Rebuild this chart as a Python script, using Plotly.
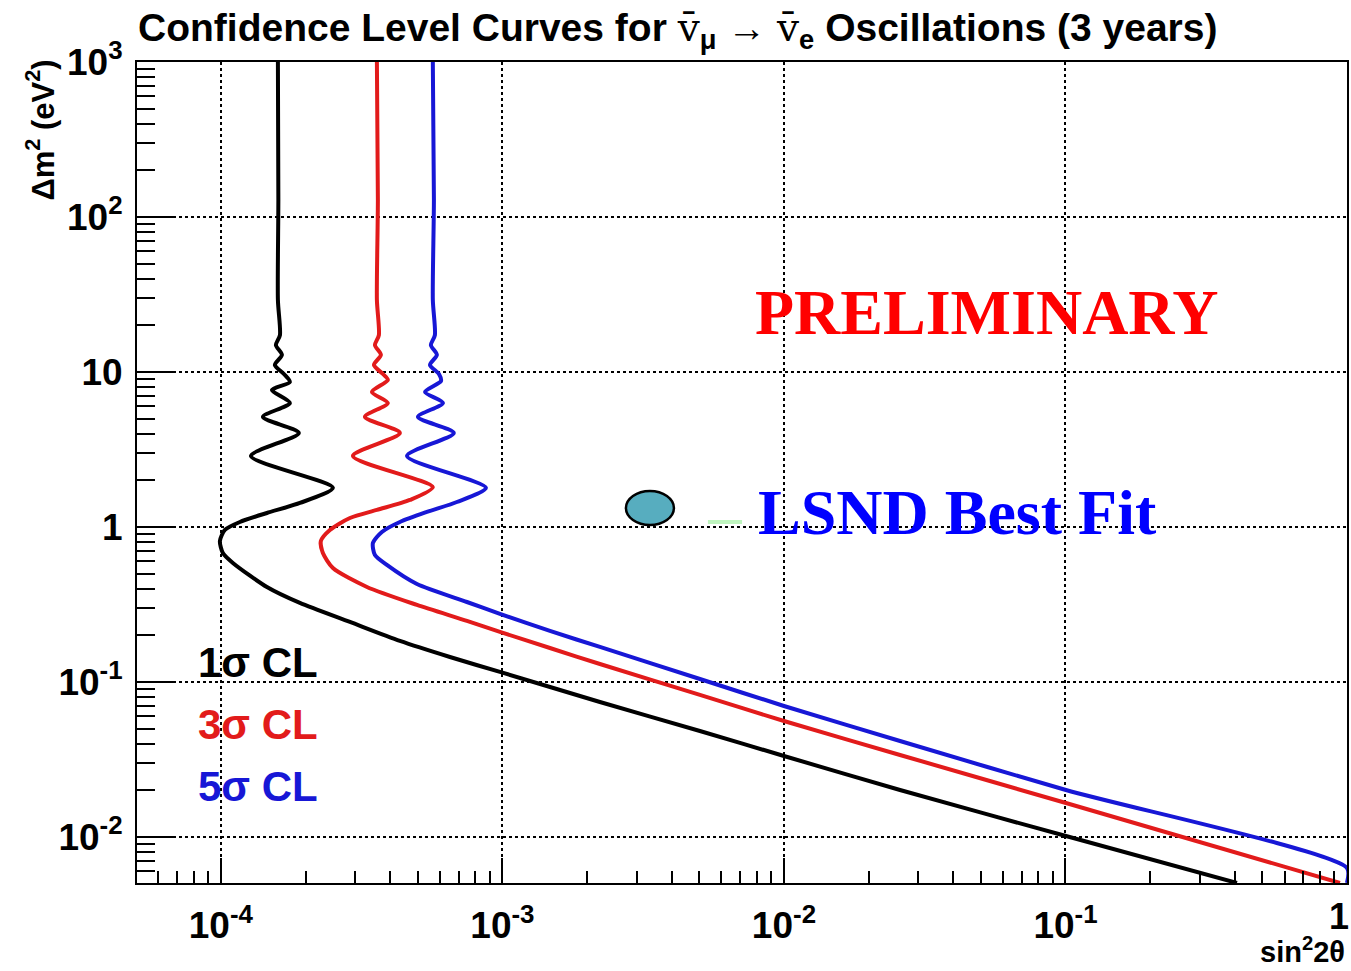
import plotly.graph_objects as go

# ---------------- data ----------------
# 1 sigma CL curve (sin^2 2theta, delta m^2 [eV^2])
s1_x = [1.594e-4, 1.600e-4, 1.594e-4, 1.621e-4, 1.568e-4, 1.647e-4, 1.555e-4, 1.674e-4,
        1.758e-4, 1.518e-4, 1.758e-4, 1.410e-4, 1.892e-4, 1.278e-4, 2.500e-4,
        1.908e-4, 1.457e-4, 1.168e-4, 1.033e-4, 0.992e-4, 1.016e-4, 1.103e-4,
        1.457e-4, 1.908e-4, 2.873e-4, 4.324e-4, 6.51e-4, 9.80e-4, 2.220e-3,
        5.03e-3, 1.0e-2, 0.02584, 0.1004, 0.4066]
s1_y = [1000, 128.8, 29.2, 17.3, 14.9, 12.9, 11.1, 9.71,
        8.62, 7.65, 6.31, 5.13, 4.04, 2.87, 1.79,
        1.429, 1.231, 1.077, 0.957, 0.812, 0.679, 0.586,
        0.410, 0.3236, 0.2438, 0.1840, 0.1449, 0.1161, 0.0743,
        0.0483, 0.0333, 0.02009, 0.01014, 0.00505]

# 3 sigma CL curve
s3_x = [3.582e-4, 3.611e-4, 3.582e-4, 3.641e-4, 3.525e-4, 3.701e-4, 3.496e-4, 3.762e-4,
        3.918e-4, 3.439e-4, 3.918e-4, 3.247e-4, 4.324e-4, 2.943e-4, 5.66e-4,
        4.692e-4, 3.582e-4, 2.873e-4, 2.439e-4, 2.265e-4, 2.303e-4, 2.500e-4,
        3.302e-4, 4.97e-4, 7.48e-4, 9.80e-4, 1.475e-3, 2.220e-3, 5.03e-3, 1.0e-2,
        0.02584, 0.1004, 0.944]
s3_y = [1000, 128.8, 29.2, 17.3, 14.9, 12.9, 11.1, 9.71,
        8.88, 7.43, 6.31, 5.13, 4.04, 2.87, 1.81,
        1.494, 1.288, 1.143, 0.957, 0.812, 0.679, 0.543,
        0.410, 0.3141, 0.2477, 0.2104, 0.1656, 0.1306, 0.0825, 0.0560,
        0.0338, 0.01656, 0.00505]

# 5 sigma CL curve
s5_x = [5.66e-4, 5.71e-4, 5.66e-4, 5.756e-4, 5.57e-4, 5.85e-4, 5.53e-4, 5.95e-4,
        6.05e-4, 5.31e-4, 6.15e-4, 5.01e-4, 6.72e-4, 4.58e-4, 8.74e-4,
        6.89e-4, 5.39e-4, 4.324e-4, 3.731e-4, 3.467e-4, 3.525e-4, 3.886e-4,
        4.97e-4, 7.48e-4, 9.80e-4, 1.475e-3, 2.220e-3, 5.03e-3, 1.0e-2,
        0.02584, 0.1004, 1.0, 1.0]
s5_y = [1000, 128.8, 29.2, 17.3, 14.9, 12.9, 11.1, 9.71,
        8.75, 7.43, 6.31, 5.13, 4.04, 2.87, 1.79,
        1.449, 1.250, 1.077, 0.929, 0.788, 0.659, 0.569,
        0.4285, 0.3281, 0.2748, 0.2133, 0.1683, 0.1045, 0.0700,
        0.0416, 0.02009, 0.00631, 0.00505]

# LSND best fit marker (ellipse extent in data units) and the small green dash
lsnd_x = [2.746e-3, 4.066e-3]
lsnd_y = [1.030, 1.706]
green_x = [5.37e-3, 7.10e-3]
green_y = [1.077, 1.077]

# axis ticks (the label of the last x tick, "1", is drawn right-aligned at the edge)
x_tickvals = [1e-4, 1e-3, 1e-2, 1e-1, 1]
x_ticktext = ["10<sup>-4</sup>", "10<sup>-3</sup>", "10<sup>-2</sup>", "10<sup>-1</sup>", ""]
x_last_label = "1"
y_tickvals = [1e-2, 1e-1, 1, 10, 100, 1000]
y_ticktext = ["10<sup>-2</sup>", "10<sup>-1</sup>", "1", "10", "10<sup>2</sup>", "10<sup>3</sup>"]
x_minor = [m * 10.0 ** k for k in range(-5, 0) for m in range(2, 10)]
y_minor = [m * 10.0 ** k for k in range(-3, 3) for m in range(2, 10)]

# ---------------- layout helpers ----------------
W, H = 1351, 971
L, R, T, B = 137, 1347, 62, 883


def pp(px, py):
    return (px - L) / (R - L), (B - py) / (B - T)


RED = "#e21b1b"
BLUE = "#1717d6"
FONT = "Liberation Sans"

fig = go.Figure()
for xs, ys, col in [(s1_x, s1_y, "black"), (s3_x, s3_y, RED), (s5_x, s5_y, BLUE)]:
    fig.add_trace(go.Scatter(x=xs, y=ys, mode="lines",
                             line=dict(color=col, width=4, shape="spline", smoothing=0.7),
                             showlegend=False, hoverinfo="skip"))

fig.add_trace(go.Scatter(x=green_x, y=green_y, mode="lines",
                         line=dict(color="#bff5bf", width=4),
                         showlegend=False, hoverinfo="skip"))

fig.add_shape(type="circle", xref="x", yref="y",
              x0=lsnd_x[0], x1=lsnd_x[1], y0=lsnd_y[0], y1=lsnd_y[1],
              fillcolor="#57adbf", line=dict(color="black", width=2.5), layer="above")

axis_common = dict(
    type="log", showline=True, linecolor="black", linewidth=2, mirror=True,
    ticks="inside", tickcolor="black", tickwidth=1.5,
    showgrid=True, gridcolor="black", griddash="3px,3px", gridwidth=1.5,
    zeroline=False, tickmode="array", ticklabeloverflow="allow", automargin=False,
    tickfont=dict(family=FONT, size=37, color="black", weight="bold"),
)

fig.update_xaxes(**axis_common, range=[-4.298, 0.0], tickvals=x_tickvals, ticktext=x_ticktext,
                 ticklen=25, ticklabelstandoff=9,
                 minor=dict(tickmode="array", tickvals=x_minor, ticks="inside", ticklen=12,
                            tickcolor="black", tickwidth=1.5, showgrid=False))
fig.update_yaxes(**axis_common, range=[-2.297, 3.0], tickvals=y_tickvals, ticktext=y_ticktext,
                 ticklen=36, ticklabelstandoff=5,
                 minor=dict(tickmode="array", tickvals=y_minor, ticks="inside", ticklen=18,
                            tickcolor="black", tickwidth=1.5, showgrid=False))

ann = []


def add_text(text, px, py, size, color="black", family=FONT, xanchor="left", angle=0, yanchor="middle"):
    x, y = pp(px, py)
    ann.append(dict(text=text, x=x, y=y, xref="paper", yref="paper", showarrow=False,
                    xanchor=xanchor, yanchor=yanchor, textangle=angle,
                    font=dict(family=family, size=size, color=color, weight="bold")))


add_text("1σ CL", 196, 662, 42)
add_text("3σ CL", 196, 724, 42, color=RED)
add_text("5σ CL", 196, 786, 42, color=BLUE)
add_text("PRELIMINARY", 753, 312, 64, color="#ff0000", family="Liberation Serif")
add_text("LSND Best Fit", 756, 512, 64, color="#0000ff", family="Liberation Serif")
add_text(x_last_label, 1351, 917, 36, xanchor="right")
add_text("sin<sup>2</sup>2θ", 1347, 950, 29, xanchor="right")
add_text("Δm<sup>2</sup> (eV<sup>2</sup>)", 40, 58, 31, angle=-90, xanchor="center", yanchor="top")
nubar = '<span style="font-family:DejaVu Serif;font-weight:normal">v̄</span>'
add_text("Confidence Level Curves for " + nubar + "<sub>μ</sub> → " + nubar
         + "<sub>e</sub> Oscillations (3 years)", 136, 30, 39)

fig.update_layout(
    width=W, height=H,
    margin=dict(l=L, r=W - R, t=T, b=H - B, autoexpand=False),
    paper_bgcolor="white", plot_bgcolor="white",
    annotations=ann, showlegend=False,
)

fig.write_html("out.html")
